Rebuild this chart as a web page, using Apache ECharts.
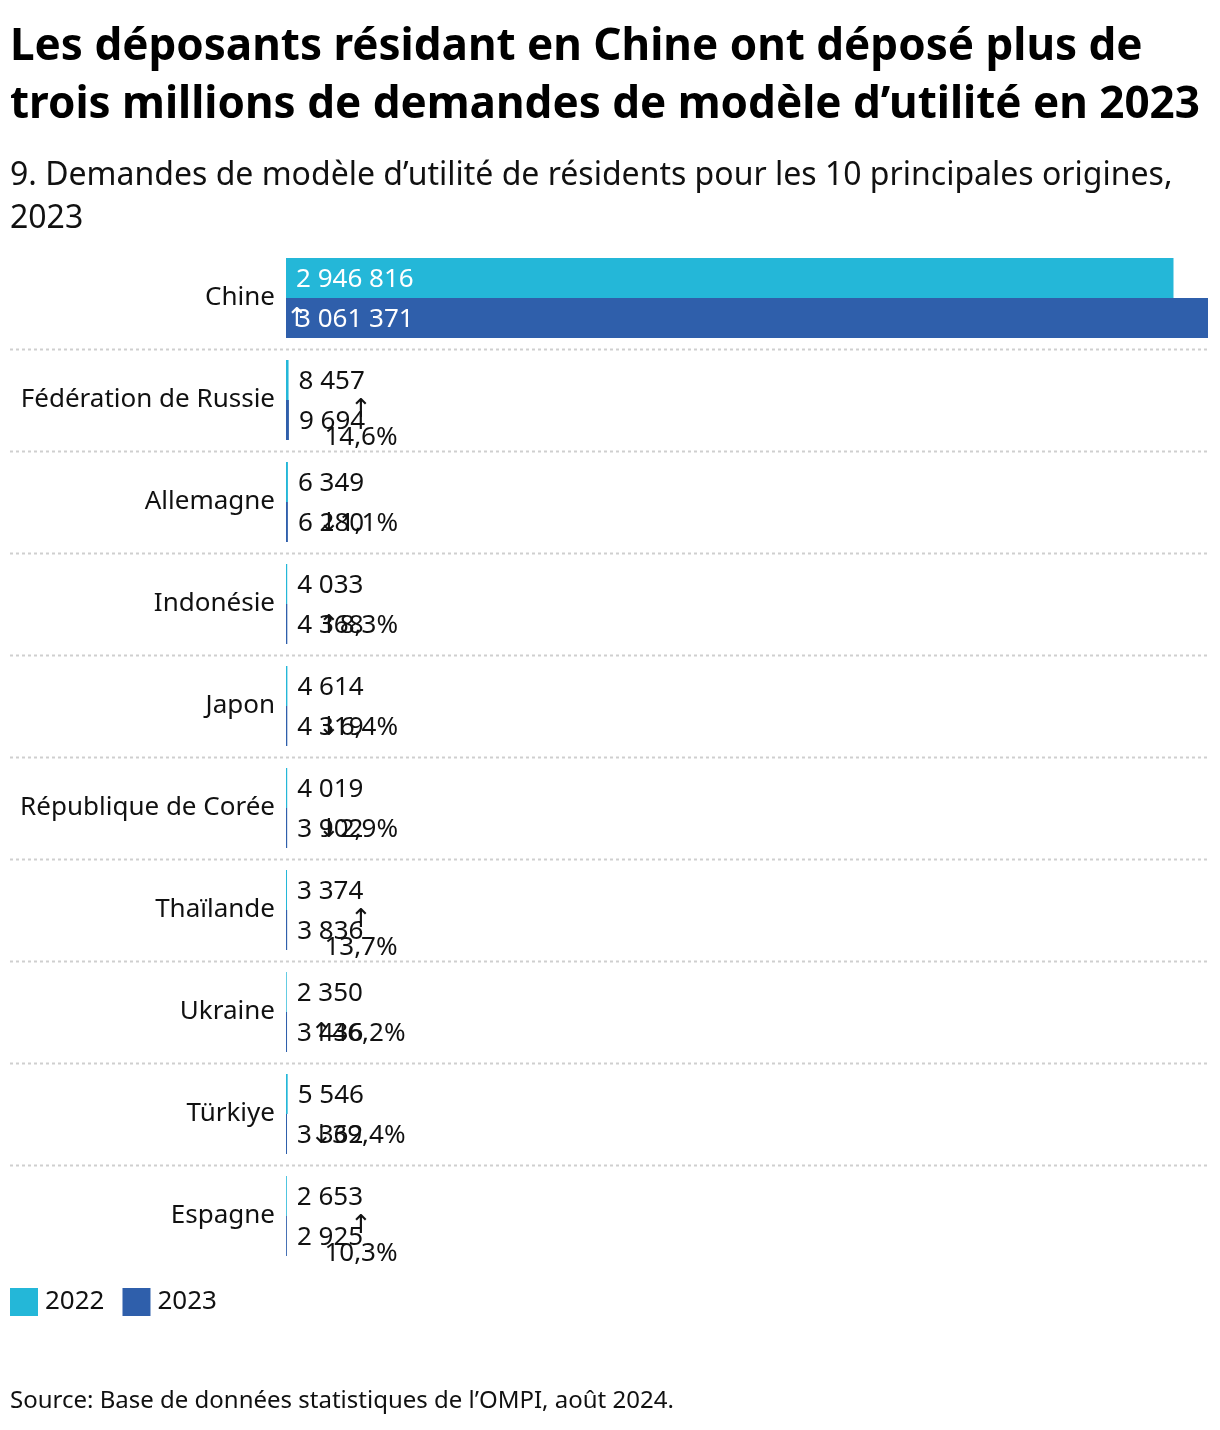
<!DOCTYPE html>
<html>
<head>
<meta charset="utf-8">
<script src="https://cdn.jsdelivr.net/npm/echarts@6/dist/echarts.min.js"></script>
<style>
  html, body { margin: 0; padding: 0; background: #fff; }
  #chart { width: 1220px; height: 1430px; }
</style>
</head>
<body>
<div id="chart"></div>
<script>
// origines, dans l'ordre du graphique
var categories = ['Chine', 'Fédération de Russie', 'Allemagne', 'Indonésie', 'Japon',
  'République de Corée', 'Thaïlande', 'Ukraine', 'Türkiye', 'Espagne'];
var values2022 = [2946816, 8457, 6349, 4033, 4614, 4019, 3374, 2350, 5546, 2653];
var values2023 = [3061371, 9694, 6280, 4368, 4319, 3902, 3836, 3436, 3362, 2925];
var growth = [3.9, 14.6, -1.1, 8.3, -6.4, -2.9, 13.7, 46.2, -39.4, 10.3];

// les étiquettes de croissance qui passent sur deux lignes
var wrapPct = ['Fédération de Russie', 'Thaïlande', 'Espagne'];

var C22 = '#24b7d8', C23 = '#2f5fab';
var FONT = '"Noto Sans", "Open Sans", sans-serif';
var ARROW_FONT = '"DejaVu Sans", sans-serif';

function fmt(n) {
  return String(n).replace(/\B(?=(\d{3})+(?!\d))/g, ' ');
}
function arrow(g) { return g < 0 ? '{a|↓}' : '{a|↑}'; }
function num(g) { return Math.abs(g).toFixed(1).replace('.', ',') + '%'; }

function barData(vals) {
  return vals.map(function(v, i) {
    var d = { value: v };
    if (i === 0) d.label = { position: 'insideLeft', distance: 10, color: '#fff' };
    return d;
  });
}

var growthData = growth.map(function(g, i) {
  var wrap = wrapPct.indexOf(categories[i]) >= 0;
  var item = { value: [0, categories[i]] };
  if (i === 0) {
    // seule la flèche reste visible sur la barre chinoise
    item.label = { formatter: '{w|↑}', offset: [11, 21] };
  } else if (wrap) {
    item.label = { formatter: arrow(g) + '\n' + num(g), offset: [75, 24] };
  } else {
    item.label = { formatter: arrow(g) + num(g), offset: [72, 22] };
  }
  return item;
});

var valueLabel = {
  show: true, position: 'right', distance: 10, offset: [0, 2],
  fontFamily: FONT, fontSize: 26, color: '#111',
  formatter: function(p) { return fmt(p.value); }
};

var chart = echarts.init(document.getElementById('chart'));
chart.setOption({
  animation: false,
  textStyle: { fontFamily: FONT },
  title: [{
    text: 'Les déposants résidant en Chine ont déposé plus de\ntrois millions de demandes de modèle d’utilité en 2023',
    left: 10, top: 18, padding: 0,
    textStyle: { fontFamily: FONT, fontSize: 44, fontWeight: 'bold', color: '#000', lineHeight: 58 }
  }, {
    text: '9. Demandes de modèle d’utilité de résidents pour les 10 principales origines,\n2023',
    left: 10, top: 154, padding: 0,
    textStyle: { fontFamily: FONT, fontSize: 32, fontWeight: 'normal', color: '#111', lineHeight: 43 }
  }, {
    text: 'Source: Base de données statistiques de l’OMPI, août 2024.',
    left: 10, top: 1389, padding: 0,
    textStyle: { fontFamily: FONT, fontSize: 24, fontWeight: 'normal', color: '#111' }
  }],
  legend: {
    data: ['2022', '2023'],
    left: 10, top: 1288, padding: 0,
    icon: 'rect', itemWidth: 28, itemHeight: 28, itemGap: 18,
    textStyle: { fontFamily: FONT, fontSize: 26, color: '#111', padding: [0, 0, 0, 2] }
  },
  grid: { left: 286, right: 12, top: 247, bottom: 163, containLabel: false },
  xAxis: {
    type: 'value', min: 0, max: 'dataMax',
    show: false
  },
  yAxis: {
    type: 'category', data: categories, inverse: true,
    axisLine: { show: false }, axisTick: { show: false }, splitLine: { show: false },
    axisLabel: { fontFamily: FONT, fontSize: 26, color: '#111', margin: 11 }
  },
  series: [{
    name: '2022', type: 'bar', data: barData(values2022),
    barWidth: 40, barGap: 0, itemStyle: { color: C22 },
    label: valueLabel
  }, {
    name: '2023', type: 'bar', data: barData(values2023),
    barWidth: 40, barGap: 0, itemStyle: { color: C23 },
    label: valueLabel
  }, {
    name: 'croissance', type: 'scatter', data: growthData,
    symbolSize: 0, silent: true, z: 5,
    itemStyle: { opacity: 1 },
    label: { show: true, position: 'inside', align: 'center', verticalAlign: 'middle',
      fontFamily: FONT, fontSize: 26, color: '#111', opacity: 1, lineHeight: 27,
      rich: {
        a: { fontFamily: ARROW_FONT, fontSize: 26, color: '#111', lineHeight: 27 },
        w: { fontFamily: ARROW_FONT, fontSize: 26, color: '#fff', lineHeight: 27 }
      } }
  }]
});

// séparateurs pointillés entre les origines, à partir de l'axe
var lines = [];
for (var i = 0; i < categories.length - 1; i++) {
  var a = chart.convertToPixel({ yAxisIndex: 0 }, categories[i]);
  var b = chart.convertToPixel({ yAxisIndex: 0 }, categories[i + 1]);
  var y = Math.round((a + b) / 2) + 0.5;
  lines.push({
    type: 'line', silent: true, z: 0,
    shape: { x1: 10, y1: y, x2: 1208, y2: y },
    style: { stroke: '#cfcfcf', lineWidth: 2, lineDash: [3, 3] }
  });
}
chart.setOption({ graphic: lines });
</script>
</body>
</html>
